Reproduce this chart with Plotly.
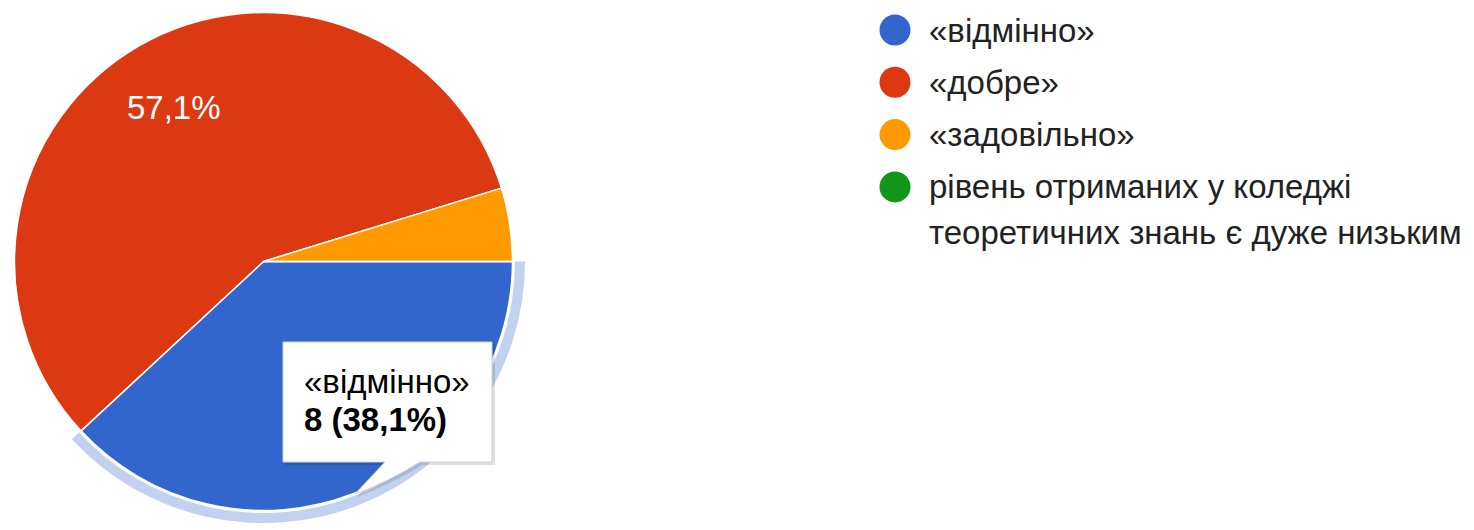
import math
import plotly.graph_objects as go

# ---- data ----
labels = ["«відмінно»", "«добре»", "«задовільно»",
          "рівень отриманих у коледжі<br>теоретичних знань є дуже низьким"]
values = [8, 12, 1, 0]
colors = ["#3366cc", "#dc3912", "#ff9900", "#109618"]
label_shown = [False, True, False, False]   # slices whose percentage is drawn inside
highlighted = 0                             # slice with hover ring + tooltip

# ---- layout constants ----
W, H = 1474, 530
FONT = "Arial, 'Liberation Sans', sans-serif"
FS = 33
cx, cy = 263.5, 261.5
r_pie = 249
r_ring_in, r_ring_out = 251.5, 261.5
start_deg = 90


def dom(r):
    return dict(x=[max(0, (cx - r) / W), min(1, (cx + r) / W)],
                y=[max(0, 1 - (cy + r) / H), min(1, 1 - (cy - r) / H)])


def P(x, y):
    return f"{x / W:.5f},{1 - y / H:.5f}"


def fmt_pct(v, tot):
    return f"{v / tot * 100:.1f}".replace(".", ",") + "%"


total = sum(values)
fig = go.Figure()

# hover highlight ring
ring_colors = ["#c2d1f0" if i == highlighted else "rgba(0,0,0,0)" for i in range(len(values))]
fig.add_trace(go.Pie(
    values=values, labels=labels, sort=False, direction="clockwise", rotation=start_deg,
    hole=r_ring_in / r_ring_out, domain=dom(r_ring_out),
    marker=dict(colors=ring_colors, line=dict(width=0)),
    textinfo="none", hoverinfo="skip", showlegend=False))

# main pie
fig.add_trace(go.Pie(
    values=values, labels=labels, sort=False, direction="clockwise", rotation=start_deg,
    domain=dom(r_pie),
    marker=dict(colors=colors, line=dict(color="white", width=1.5)),
    textinfo="none", hoverinfo="skip", showlegend=False))

annotations = []

# slice percentage labels, placed along each slice bisector
cum = 0
for v, show in zip(values, label_shown):
    mid = math.radians(start_deg + 360 * (cum + v / 2) / total)
    cum += v
    if not show:
        continue
    rr = 0.715 * r_pie
    px, py = cx + rr * math.sin(mid), cy - rr * math.cos(mid)
    annotations.append(dict(
        x=px / W, y=1 - py / H, xref="paper", yref="paper", showarrow=False,
        xanchor="center", yanchor="middle", text=fmt_pct(v, total),
        font=dict(family=FONT, size=FS, color="white")))

# custom legend (large circle markers)
fig.add_trace(go.Scatter(
    x=[0] * len(labels), y=list(range(len(labels))), mode="markers",
    marker=dict(size=31, color=colors), cliponaxis=False,
    hoverinfo="skip", showlegend=False, xaxis="x", yaxis="y"))

for i, lab in enumerate(labels):
    for k, line in enumerate(lab.split("<br>")):
        annotations.append(dict(
            x=0, y=i, xref="x", yref="y", xanchor="left", yanchor="middle",
            xshift=32, yshift=-k * 46, text=line, showarrow=False,
            font=dict(family=FONT, size=FS, color="#222222")))

# tooltip
tip_lines = [labels[highlighted],
             f"<b>{values[highlighted]} ({fmt_pct(values[highlighted], total)})</b>"]
for k, line in enumerate(tip_lines):
    annotations.append(dict(
        x=302 / W, y=1 - 381 / H, yshift=-k * 38, xref="paper", yref="paper",
        xanchor="left", yanchor="middle", align="left", showarrow=False,
        text=line, font=dict(family=FONT, size=FS, color="#000000")))

box = (f"M{P(283, 342)} L{P(492, 342)} L{P(492, 462)} L{P(420, 462)} "
       f"Q{P(388, 482)} {P(355, 494)} L{P(385, 462)} L{P(283, 462)} Z")
shadow = (f"M{P(285, 344)} L{P(495, 344)} L{P(495, 465)} L{P(422, 465)} "
          f"Q{P(390, 485)} {P(357, 497)} L{P(387, 465)} L{P(285, 465)} Z")
shapes = [
    dict(type="path", path=shadow, xref="paper", yref="paper", layer="above",
         fillcolor="rgba(0,0,0,0.12)", line=dict(width=0)),
    dict(type="path", path=box, xref="paper", yref="paper", layer="above",
         fillcolor="white", line=dict(color="#d0d0d0", width=1)),
]

fig.update_layout(
    width=W, height=H, margin=dict(l=0, r=0, t=0, b=0),
    paper_bgcolor="white", plot_bgcolor="white",
    xaxis=dict(domain=[895 / W, 1], range=[0, 1], visible=False, fixedrange=True),
    yaxis=dict(domain=[0, 1], range=[(H - 30) / 52.3, -30 / 52.3], visible=False, fixedrange=True),
    annotations=annotations, shapes=shapes, showlegend=False,
)

fig.write_html("out.html")
